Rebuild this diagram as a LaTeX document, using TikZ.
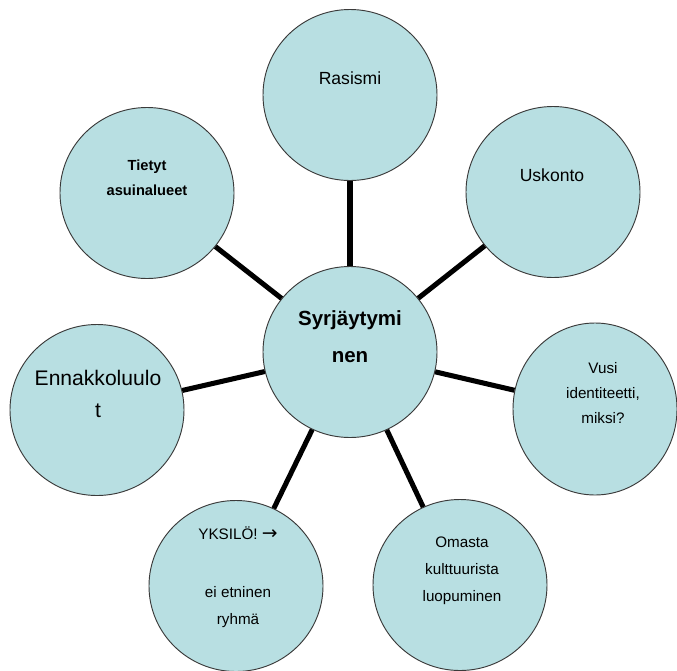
\documentclass[tikz,border=0pt]{standalone}
\usepackage{fontspec}
\setmainfont{Liberation Sans}
\newfontfamily\arrowfont{DejaVu Sans}
\usetikzlibrary{shapes.geometric}
\definecolor{bubblefill}{HTML}{B8DFE2}
\definecolor{bubbleline}{HTML}{3A3A3A}

\begin{document}
\begin{tikzpicture}[x=0.03cm,y=-0.03cm,
    bubble/.style={ellipse,draw=bubbleline,fill=bubblefill,line width=0.8pt,
        minimum width=5.22cm,minimum height=5.13cm,inner sep=0pt},
    spoke/.style={line width=4.3pt,black},
    small/.style={align=center,font=\fontsize{13}{23}\selectfont},
    medium/.style={align=center,font=\fontsize{15}{24}\selectfont},
    large/.style={align=center,font=\fontsize{18}{27}\selectfont},
    centre/.style={align=center,font=\bfseries\fontsize{17.5}{31.5}\selectfont}]
\useasboundingbox (0,0) rectangle (677,670);
\node[bubble] (syr) at (350,352) {};
\node[bubble] (ras) at (350,95) {};
\node[bubble] (tie) at (147,193) {};
\node[bubble] (usk) at (553,192) {};
\node[bubble] (enn) at (97,410) {};
\node[bubble,minimum width=4.92cm,minimum height=5.16cm] (vus) at (595,409) {};
\node[bubble] (yks) at (236,586) {};
\node[bubble] (oma) at (460,585) {};
\draw[spoke] (syr) -- (ras);
\draw[spoke] (syr) -- (tie);
\draw[spoke] (syr) -- (usk);
\draw[spoke] (syr) -- (enn);
\draw[spoke] (syr) -- (vus);
\draw[spoke] (syr) -- (yks);
\draw[spoke] (syr) -- (oma);
\node[centre] (syrT) at (350,337) {Syrjäytymi\\nen};
\node[medium] (rasT) at (350,78) {Rasismi};
\node[small,font=\bfseries\fontsize{12.5}{21}\selectfont] (tieT) at (147,178) {Tietyt\\asuinalueet};
\node[medium] (uskT) at (552,175) {Uskonto};
\node[large] (ennT) at (98,394) {Ennakkoluulo\\t};
\node[small,font=\fontsize{13}{21.5}\selectfont] (vusT) at (603,393) {Vusi\\identiteetti,\\miksi?};
\node[small] (yksT) at (238,577) {YKSILÖ! {\arrowfont\fontsize{16}{16}\selectfont →}\\[4pt]\\ei etninen\\ryhmä};
\node[small] (omaT) at (462,571) {Omasta\\kulttuurista\\luopuminen};
\end{tikzpicture}
\end{document}
